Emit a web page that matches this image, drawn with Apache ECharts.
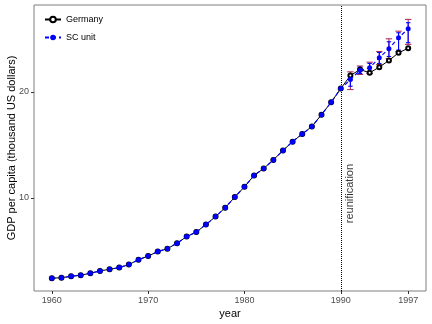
<!DOCTYPE html>
<html><head><meta charset="utf-8">
<script src="https://cdn.jsdelivr.net/npm/echarts@6/dist/echarts.min.js"></script>
<style>html,body{margin:0;padding:0;background:#fff}#c{width:432px;height:324px}</style>
</head><body><div id="c"></div>
<script>
const years = [1960,1961,1962,1963,1964,1965,1966,1967,1968,1969,1970,1971,1972,1973,1974,1975,1976,1977,1978,1979,1980,1981,1982,1983,1984,1985,1986,1987,1988,1989,1990,1991,1992,1993,1994,1995,1996,1997];
const germany = [2.40,2.46,2.59,2.69,2.88,3.09,3.25,3.41,3.69,4.16,4.50,4.92,5.20,5.71,6.34,6.76,7.47,8.23,9.06,10.07,11.04,12.11,12.77,13.57,14.47,15.30,16.03,16.72,17.85,19.02,20.31,21.54,22.11,21.80,22.33,22.96,23.69,24.12];
const scUnit = [2.40,2.46,2.59,2.69,2.88,3.09,3.25,3.41,3.69,4.16,4.50,4.92,5.20,5.71,6.34,6.76,7.47,8.23,9.06,10.07,11.04,12.11,12.77,13.57,14.47,15.30,16.03,16.72,17.85,19.02,20.31,21.16,22.04,22.27,23.22,24.07,25.11,25.96];
const errYears = [1991,1992,1993,1994,1995,1996,1997];
const outerLo = [20.22,21.64,21.73,22.58,23.15,23.81,24.48];
const outerHi = [21.89,22.44,22.80,23.81,25.01,25.73,26.84];
const innerLo = [20.53,21.73,21.83,22.68,23.34,23.95,24.64];
const innerHi = [21.64,22.33,22.68,23.72,24.73,25.58,26.53];
const xTicks = [1960,1970,1980,1990,1997];
const yTicks = [10,20];
const reunifYear = 1990;
const annotation = {x: 1991, y: 10.4, text: 'reunification'};

const FONT = 'Liberation Sans, Arial, Helvetica, sans-serif';
const chart = echarts.init(document.getElementById('c'), null, {renderer: 'canvas'});

function errSeries(lo, hi, color, halfW) {
  return {
    type: 'custom',
    z: 3,
    data: errYears.map((y, i) => [y, lo[i], hi[i]]),
    encode: {x: 0, y: [1, 2]},
    renderItem: function (params, api) {
      const x = api.value(0);
      const a = api.coord([x, api.value(2)]);
      const b = api.coord([x, api.value(1)]);
      const st = {stroke: color, lineWidth: 1.1};
      return {type: 'group', children: [
        {type: 'line', shape: {x1: a[0], y1: a[1], x2: b[0], y2: b[1]}, style: st},
        {type: 'line', shape: {x1: a[0] - halfW, y1: a[1], x2: a[0] + halfW, y2: a[1]}, style: st},
        {type: 'line', shape: {x1: b[0] - halfW, y1: b[1], x2: b[0] + halfW, y2: b[1]}, style: st}
      ]};
    }
  };
}

chart.setOption({
  animation: false,
  backgroundColor: '#fff',
  textStyle: {fontFamily: FONT},
  grid: {left: 34, right: 6, top: 5, bottom: 33, containLabel: false, outerBoundsMode: 'none',
    show: true, borderColor: '#7f7f7f', borderWidth: 1, backgroundColor: 'transparent'},
  legend: {
    left: 44, top: 15, padding: 0, orient: 'vertical', itemWidth: 16, itemHeight: 7, itemGap: 9,
    textStyle: {fontSize: 9, color: '#000', fontFamily: FONT},
    data: ['Germany', 'SC unit']
  },
  xAxis: {
    type: 'value', min: 1958.15, max: 1998.85,
    name: 'year', nameLocation: 'middle', nameGap: 17, nameMoveOverlap: false,
    nameTextStyle: {fontSize: 11, color: '#000', fontFamily: FONT},
    axisLine: {show: false},
    splitLine: {show: false},
    axisTick: {show: true, length: 3, lineStyle: {color: '#333'}, customValues: xTicks},
    axisLabel: {fontSize: 9, color: '#4d4d4d', margin: 5, customValues: xTicks, formatter: v => String(v)}
  },
  yAxis: {
    type: 'value', min: 1.2, max: 28.2,
    name: 'GDP per capita (thousand US dollars)', nameLocation: 'middle', nameGap: 17, nameMoveOverlap: false,
    nameTextStyle: {fontSize: 11, color: '#000', fontFamily: FONT},
    axisLine: {show: false},
    splitLine: {show: false},
    axisTick: {show: true, length: 3, lineStyle: {color: '#333'}, customValues: yTicks},
    axisLabel: {fontSize: 9, color: '#4d4d4d', margin: 5, customValues: yTicks}
  },
  series: [
    {
      name: 'Germany', type: 'line', z: 4,
      data: years.map((y, i) => [y, germany[i]]),
      symbol: 'emptyCircle', symbolSize: 4,
      lineStyle: {color: '#000', width: 1},
      itemStyle: {color: '#000', borderColor: '#000', borderWidth: 0.8},
      markLine: {
        silent: true, symbol: 'none', label: {show: false},
        lineStyle: {color: '#000', type: 'dotted', width: 1},
        data: [{xAxis: reunifYear}]
      }
    },
    errSeries(outerLo, outerHi, '#b03060', 3.2),
    errSeries(innerLo, innerHi, '#0000ff', 2.2),
    {
      name: 'SC unit', type: 'line', z: 5,
      data: years.map((y, i) => [y, scUnit[i]]),
      symbol: 'circle', symbolSize: 5,
      lineStyle: {color: '#0000ff', width: 1.2, type: [4, 3]},
      itemStyle: {color: '#0000ff'}
    },
    {
      type: 'scatter', symbolSize: 0, silent: true, z: 6,
      data: [[annotation.x, annotation.y]],
      label: {show: true, position: 'inside', rotate: 90, formatter: annotation.text,
        fontSize: 11, color: '#000', fontFamily: FONT}
    }
  ]
});
</script></body></html>
